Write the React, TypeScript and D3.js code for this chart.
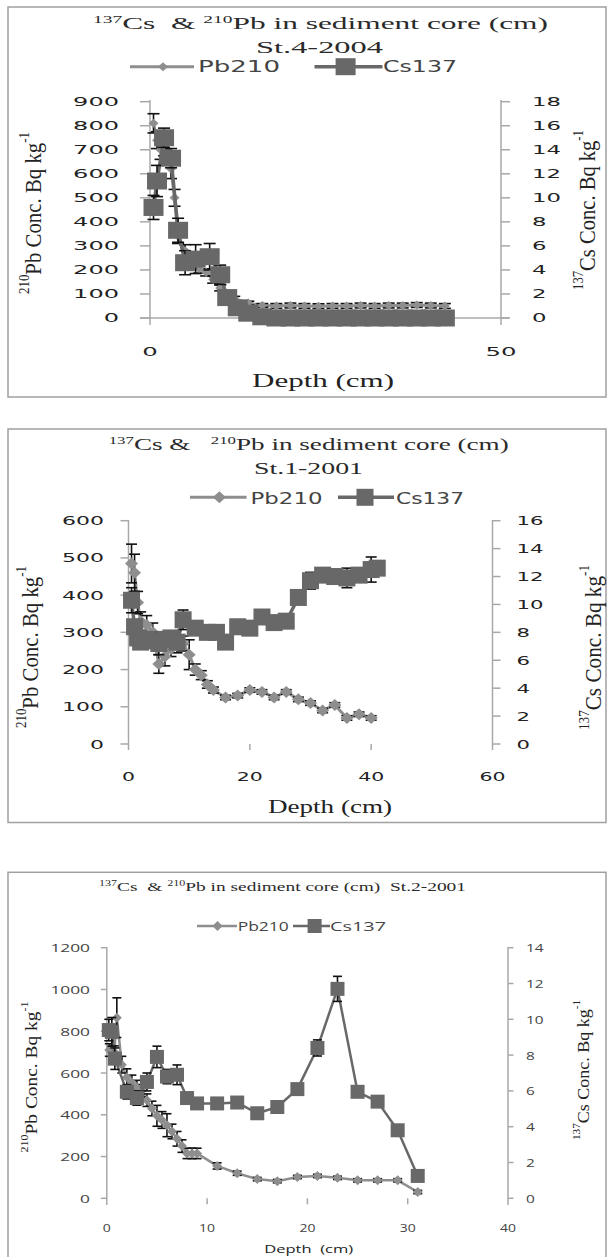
import React from 'react';
import * as d3 from 'd3';

// ---------- Panel 1 : St.4-2004 ----------
const p1PbDepth = [0.5, 1, 1.5, 2, 3, 3.5, 4, 5, 6, 7, 8, 9, 10, 11, 12, 14, 16, 18, 20, 22, 24, 26, 28, 30, 32, 34, 36, 38, 40, 42];
const p1PbValue = [810, 740, 700, 720, 620, 500, 340, 280, 230, 205, 190, 160, 125, 100, 80, 62, 52, 50, 52, 50, 49, 50, 50, 52, 50, 52, 52, 54, 52, 50];
const p1PbError = [40, 35, 40, 45, 40, 35, 30, 25, 20, 18, 15, 15, 12, 10, 10, 8, 8, 10, 10, 10, 10, 10, 10, 10, 10, 10, 10, 10, 10, 10];
const p1CsDepth = [0.5, 1, 2, 3, 4, 5, 6.5, 8.5, 10, 11, 12.5, 14, 16, 18, 20, 22, 24, 26, 28, 30, 32, 34, 36, 38, 40, 42];
const p1CsValue = [9.2, 11.4, 15.0, 13.3, 7.3, 4.6, 4.9, 5.1, 3.6, 1.7, 0.85, 0.4, 0.1, 0, 0, 0, 0, 0, 0, 0, 0, 0, 0, 0, 0, 0];
const p1CsError = [1.0, 1.3, 0.8, 0.8, 1.0, 1.0, 1.2, 1.1, 0.8, 0.5, 0.3, 0.2, 0.1, 0.05, 0.05, 0.05, 0.05, 0.05, 0.05, 0.05, 0.05, 0.05, 0.05, 0.05, 0.05, 0.05];
const p1LeftTicks = [0, 100, 200, 300, 400, 500, 600, 700, 800, 900];
const p1RightTicks = [0, 2, 4, 6, 8, 10, 12, 14, 16, 18];
const p1DepthTicks = [0, 50];

// ---------- Panel 2 : St.1-2001 ----------
const p2PbDepth = [0.5, 1, 1.5, 2, 3, 4, 5, 6, 7, 8, 9, 10, 11, 12, 13, 14, 16, 18, 20, 22, 24, 26, 28, 30, 32, 34, 36, 38, 40];
const p2PbValue = [485, 460, 380, 330, 320, 300, 215, 235, 255, 265, 270, 240, 200, 185, 160, 145, 125, 130, 145, 140, 125, 140, 120, 110, 90, 105, 70, 80, 70];
const p2PbError = [52, 50, 30, 25, 25, 25, 25, 25, 20, 20, 20, 40, 15, 12, 10, 8, 6, 6, 6, 6, 6, 6, 6, 6, 6, 6, 6, 6, 6];
const p2CsDepth = [0.5, 1, 1.5, 2, 3, 4, 5, 6, 7, 8, 9, 11, 13, 14.5, 16, 18, 20, 22, 24, 26, 28, 30, 32, 34, 36, 38, 40, 41];
const p2CsValue = [10.3, 8.4, 7.6, 7.3, 7.5, 7.4, 7.2, 7.5, 7.6, 7.3, 8.9, 8.3, 8.0, 8.0, 7.3, 8.4, 8.3, 9.1, 8.7, 8.8, 10.5, 11.7, 12.1, 12.0, 11.9, 12.1, 12.5, 12.6];
const p2CsError = [0.9, 0.5, 0.5, 0.4, 0.4, 0.5, 0.8, 0.4, 0.4, 0.4, 0.7, 0.3, 0.2, 0.2, 0.2, 0.2, 0.2, 0.3, 0.3, 0.3, 0.3, 0.6, 0.5, 0.4, 0.7, 0.5, 0.9, 0.5];
const p2LeftTicks = [0, 100, 200, 300, 400, 500, 600];
const p2RightTicks = [0, 2, 4, 6, 8, 10, 12, 14, 16];
const p2DepthTicks = [0, 20, 40, 60];

// ---------- Panel 3 : St.2-2001 ----------
const p3PbDepth = [0.25, 0.75, 1, 1.5, 2, 2.5, 3, 3.5, 4, 4.5, 5, 5.5, 6, 6.5, 7, 7.5, 8, 8.5, 9, 11, 13, 15, 17, 19, 21, 23, 25, 27, 29, 31];
const p3PbValue = [710, 700, 865, 640, 580, 555, 530, 515, 470, 430, 395, 375, 350, 320, 285, 250, 215, 215, 215, 155, 120, 92, 82, 102, 107, 98, 86, 86, 86, 30];
const p3PbError = [30, 30, 95, 40, 40, 35, 35, 30, 30, 35, 50, 40, 55, 35, 35, 30, 25, 25, 25, 15, 10, 8, 8, 8, 8, 8, 8, 8, 8, 8];
const p3CsDepth = [0.2, 0.5, 0.8, 2, 3, 4, 5, 6, 7, 8, 9, 11, 13, 15, 17, 19, 21, 23, 25, 27, 29, 31];
const p3CsValue = [9.4, 9.3, 7.8, 5.95, 5.6, 6.5, 7.9, 6.8, 6.9, 5.6, 5.3, 5.3, 5.35, 4.75, 5.1, 6.1, 8.4, 11.7, 5.95, 5.4, 3.8, 1.25];
const p3CsError = [0.6, 0.8, 0.6, 0.4, 0.4, 0.5, 0.6, 0.4, 0.55, 0.2, 0.2, 0.1, 0.1, 0.1, 0.1, 0.25, 0.45, 0.7, 0.2, 0.1, 0.1, 0.1];
const p3LeftTicks = [0, 200, 400, 600, 800, 1000, 1200];
const p3RightTicks = [0, 2, 4, 6, 8, 10, 12, 14];
const p3DepthTicks = [0, 10, 20, 30, 40];

const seriesNames = ['Pb210', 'Cs137'];

const PB_COLOR = '#8e8e8e';
const CS_COLOR = '#686868';
const SERIF = '"Liberation Serif", "DejaVu Serif", serif';
const SANS = '"DejaVu Sans", Verdana, sans-serif';
const SANS3 = '"Open Sans", "Liberation Sans", sans-serif';

type Part = [string, boolean];

function renderParts(list: Part[], size: number) {
  let raised = false;
  return list.map(([s, sup], i) => {
    let dy = 0;
    if (sup && !raised) { dy = -size * 0.38; raised = true; }
    else if (!sup && raised) { dy = size * 0.38; raised = false; }
    return (
      <tspan key={i} fontSize={sup ? size * 0.62 : size} dy={dy}>{s}</tspan>
    );
  });
}

function SText(props: any) {
  const { x, y, w, anchor = 'start', size, family, fill = '#222', baseline = 'auto', weight = 'normal', children } = props;
  const sx = anchor === 'end' ? x - w : anchor === 'middle' ? x - w / 2 : x;
  return (
    <text x={sx} y={y} textLength={w} lengthAdjust="spacingAndGlyphs" fontSize={size}
      fontFamily={family} fill={fill} fontWeight={weight} dominantBaseline={baseline}
      style={{ whiteSpace: 'pre' }}>
      {children}
    </text>
  );
}

function RText(props: any) {
  const { cx, cy, len, size, sx, family, fill = '#222', children } = props;
  return (
    <g transform={`translate(${cx},${cy}) scale(${sx},1) rotate(-90)`}>
      <text x={-len / 2} y={0} textLength={len} lengthAdjust="spacingAndGlyphs" fontSize={size}
        fontFamily={family} fill={fill} dominantBaseline="central" style={{ whiteSpace: 'pre' }}>
        {children}
      </text>
    </g>
  );
}

function diamond(x: number, y: number, w: number, h: number) {
  return `M${x},${y - h / 2}L${x + w / 2},${y}L${x},${y + h / 2}L${x - w / 2},${y}Z`;
}

function Panel({ cfg }: { cfg: any }) {
  const x = d3.scaleLinear().domain(cfg.xDomain).range([cfg.plot.x0, cfg.plot.x1]);
  const yL = d3.scaleLinear().domain([0, cfg.leftTicks[cfg.leftTicks.length - 1]]).range([cfg.plot.yBot, cfg.plot.yTop]);
  const yR = d3.scaleLinear().domain([0, cfg.rightTicks[cfg.rightTicks.length - 1]]).range([cfg.plot.yBot, cfg.plot.yTop]);

  const pbPts = cfg.pbDepth.map((d: number, i: number) => [d, cfg.pbValue[i], cfg.pbError[i]]);
  const csPts = cfg.csDepth.map((d: number, i: number) => [d, cfg.csValue[i], cfg.csError[i]]);

  const pbLine = d3.line<any>().x(p => x(p[0])).y(p => yL(p[1]));
  const csLine = d3.line<any>().x(p => x(p[0])).y(p => yR(p[1]));

  const m = cfg.marker;
  const lg = cfg.legend;
  const capW = cfg.capW;

  const errBars = (pts: any[], ys: any, key: string) =>
    pts.map((p, i) => {
      const cx = x(p[0]);
      const y1 = ys(p[1] - p[2]);
      const y2 = ys(p[1] + p[2]);
      return (
        <g key={key + i} stroke="#111" strokeWidth={1.6}>
          <line x1={cx} x2={cx} y1={y1} y2={y2} />
          <line x1={cx - capW / 2} x2={cx + capW / 2} y1={y1} y2={y1} />
          <line x1={cx - capW / 2} x2={cx + capW / 2} y1={y2} y2={y2} />
        </g>
      );
    });

  const lab = cfg.labels;

  return (
    <g>
      <rect x={cfg.box.x} y={cfg.box.y} width={cfg.box.w} height={cfg.box.h} fill="#fff" stroke="#a0a0a0" strokeWidth={1.5} />

      {cfg.titles.map((t: any, i: number) => (
        <SText key={'t' + i} x={t.cx} y={t.y} w={t.w} anchor="middle" size={t.size} family={SERIF} fill="#2a2a2a">
          {renderParts(t.parts, t.size)}
        </SText>
      ))}

      {/* legend */}
      <g>
        <line x1={lg.pb.x0} x2={lg.pb.x1} y1={lg.y} y2={lg.y} stroke={PB_COLOR} strokeWidth={cfg.stroke.pb} />
        <path d={diamond(lg.pb.mx, lg.y, m.dW, m.dH)} fill={PB_COLOR} />
        <SText x={lg.pb.tx} y={lg.ty} w={lg.pb.tw} size={lg.size} family={lg.family} fill="#444">{seriesNames[0]}</SText>
        <line x1={lg.cs.x0} x2={lg.cs.x1} y1={lg.y} y2={lg.y} stroke={CS_COLOR} strokeWidth={cfg.stroke.cs} />
        <rect x={lg.cs.mx - m.sW / 2} y={lg.y - m.sH / 2} width={m.sW} height={m.sH} fill={CS_COLOR} />
        <SText x={lg.cs.tx} y={lg.ty} w={lg.cs.tw} size={lg.size} family={lg.family} fill="#444">{seriesNames[1]}</SText>
      </g>

      {/* axes */}
      <g stroke="#a8a8a8" strokeWidth={1.5}>
        <line x1={cfg.plot.x0} x2={cfg.plot.x0} y1={cfg.axisExt.top} y2={cfg.axisExt.bottom} />
        <line x1={cfg.plot.x1} x2={cfg.plot.x1} y1={cfg.axisExt.top} y2={cfg.axisExt.bottom} />
        {cfg.xAxisLine && (
          <line x1={cfg.xAxisLine.x0} x2={cfg.xAxisLine.x1} y1={cfg.plot.yBot} y2={cfg.plot.yBot} />
        )}
        {cfg.leftTicks.map((t: number) => (
          <line key={'lt' + t} x1={cfg.plot.x0 - cfg.tickLen.left} x2={cfg.plot.x0} y1={yL(t)} y2={yL(t)} />
        ))}
        {cfg.rightTicks.map((t: number) => (
          <line key={'rt' + t} x1={cfg.plot.x1} x2={cfg.plot.x1 + cfg.tickLen.right} y1={yR(t)} y2={yR(t)} />
        ))}
        {cfg.xTickMarks && cfg.depthTicks.slice(1, -1).map((t: number) => (
          <line key={'xt' + t} x1={x(t)} x2={x(t)} y1={cfg.plot.yBot} y2={cfg.plot.yBot + cfg.tickLen.bottom} />
        ))}
      </g>

      {/* tick labels */}
      {cfg.leftTicks.map((t: number) => (
        <SText key={'ll' + t} x={lab.leftEnd} y={yL(t)} w={String(t).length * lab.leftChar} anchor="end"
          size={lab.size} family={lab.family} fill={lab.fill} baseline="central">{String(t)}</SText>
      ))}
      {cfg.rightTicks.map((t: number) => (
        <SText key={'rl' + t} x={lab.rightStart} y={yR(t)} w={String(t).length * lab.rightChar}
          size={lab.size} family={lab.family} fill={lab.fill} baseline="central">{String(t)}</SText>
      ))}
      {cfg.depthTicks.map((t: number) => (
        <SText key={'xl' + t} x={x(t)} y={lab.xY} w={String(t).length * lab.xChar} anchor="middle"
          size={lab.size} family={lab.family} fill={lab.fill} baseline="central">{String(t)}</SText>
      ))}

      {/* axis titles */}
      <SText x={cfg.depthTitle.cx} y={cfg.depthTitle.y} w={cfg.depthTitle.w} anchor="middle"
        size={cfg.depthTitle.size} family={cfg.depthTitle.family} fill="#222">{cfg.depthTitle.text}</SText>
      <RText cx={cfg.leftTitle.cx} cy={cfg.leftTitle.cy} len={cfg.leftTitle.len} size={cfg.leftTitle.size}
        sx={cfg.leftTitle.sx} family={SERIF}>
        {renderParts([['210', true], ['Pb Conc. Bq kg', false], ['-1', true]], cfg.leftTitle.size)}
      </RText>
      <RText cx={cfg.rightTitle.cx} cy={cfg.rightTitle.cy} len={cfg.rightTitle.len} size={cfg.rightTitle.size}
        sx={cfg.rightTitle.sx} family={SERIF}>
        {renderParts([['137', true], ['Cs Conc. Bq kg', false], ['-1', true]], cfg.rightTitle.size)}
      </RText>

      {/* series: Pb210 */}
      <path d={pbLine(pbPts) || ''} fill="none" stroke={PB_COLOR} strokeWidth={cfg.stroke.pb} strokeLinejoin="round" />
      {errBars(pbPts, yL, 'pe')}
      {pbPts.map((p: any, i: number) => (
        <path key={'pm' + i} d={diamond(x(p[0]), yL(p[1]), m.dW, m.dH)} fill={PB_COLOR} />
      ))}

      {/* series: Cs137 */}
      <path d={csLine(csPts) || ''} fill="none" stroke={CS_COLOR} strokeWidth={cfg.stroke.cs} strokeLinejoin="round" />
      {errBars(csPts, yR, 'ce')}
      {csPts.map((p: any, i: number) => (
        <rect key={'cm' + i} x={x(p[0]) - m.sW / 2} y={yR(p[1]) - m.sH / 2} width={m.sW} height={m.sH} fill={CS_COLOR} />
      ))}
    </g>
  );
}

const panel1 = {
  pbDepth: p1PbDepth, pbValue: p1PbValue, pbError: p1PbError,
  csDepth: p1CsDepth, csValue: p1CsValue, csError: p1CsError,
  leftTicks: p1LeftTicks, rightTicks: p1RightTicks, depthTicks: p1DepthTicks,
  xDomain: [0, 50],
  box: { x: 8, y: 7, w: 598, h: 390 },
  plot: { x0: 150, x1: 501, yTop: 101.7, yBot: 318 },
  axisExt: { top: 100, bottom: 325 },
  xAxisLine: { x0: 140, x1: 509 },
  xTickMarks: false,
  tickLen: { left: 10, right: 9, bottom: 6 },
  labels: { leftEnd: 119, leftChar: 15.3, rightStart: 532, rightChar: 14.5, xY: 351.7, xChar: 15.5, size: 12, family: SANS, fill: '#222' },
  titles: [
    { parts: [['137', true], ['Cs  & ', false], ['210', true], ['Pb in sediment core (cm)', false]], cx: 320.5, y: 29.3, w: 455, size: 17 },
    { parts: [['St.4-2004', false]], cx: 319.5, y: 53.3, w: 127, size: 17 },
  ],
  legend: { y: 66.7, ty: 71.5, size: 15, family: SANS, pb: { x0: 130, x1: 194, mx: 163, tx: 198, tw: 82 }, cs: { x0: 314.5, x1: 382.5, mx: 345.6, tx: 383, tw: 74 } },
  depthTitle: { text: 'Depth (cm)', cx: 323, y: 386.7, w: 142, size: 18, family: SERIF },
  leftTitle: { cx: 33, cy: 213, len: 162, size: 16, sx: 1.5 },
  rightTitle: { cx: 587, cy: 210, len: 160, size: 16, sx: 1.5 },
  marker: { dW: 10, dH: 9, sW: 20, sH: 17 },
  stroke: { pb: 3, cs: 3.5 },
  capW: 12,
};

const panel2 = {
  pbDepth: p2PbDepth, pbValue: p2PbValue, pbError: p2PbError,
  csDepth: p2CsDepth, csValue: p2CsValue, csError: p2CsError,
  leftTicks: p2LeftTicks, rightTicks: p2RightTicks, depthTicks: p2DepthTicks,
  xDomain: [0, 60],
  box: { x: 8, y: 429, w: 598, h: 393.5 },
  plot: { x0: 128.5, x1: 492.5, yTop: 520.7, yBot: 744 },
  axisExt: { top: 520, bottom: 750 },
  xAxisLine: null,
  xTickMarks: true,
  tickLen: { left: 8, right: 8, bottom: 6 },
  labels: { leftEnd: 104, leftChar: 14, rightStart: 516.5, rightChar: 13.5, xY: 776.7, xChar: 13, size: 13, family: SANS, fill: '#222' },
  titles: [
    { parts: [['137', true], ['Cs &   ', false], ['210', true], ['Pb in sediment core (cm)', false]], cx: 308.7, y: 450, w: 400, size: 16 },
    { parts: [['St.1-2001', false]], cx: 308.5, y: 474, w: 109, size: 16 },
  ],
  legend: { y: 497.3, ty: 503.5, size: 15, family: SANS, pb: { x0: 190, x1: 246.6, mx: 219.4, tx: 250.5, tw: 72 }, cs: { x0: 338, x1: 394, mx: 365, tx: 396, tw: 68 } },
  depthTitle: { text: 'Depth (cm)', cx: 330, y: 813, w: 124, size: 18, family: SERIF },
  leftTitle: { cx: 30, cy: 647, len: 162, size: 16, sx: 1.45 },
  rightTitle: { cx: 593, cy: 647.5, len: 165, size: 16, sx: 1.45 },
  marker: { dW: 13, dH: 12, sW: 17, sH: 17 },
  stroke: { pb: 3, cs: 3.5 },
  capW: 11,
};

const panel3 = {
  pbDepth: p3PbDepth, pbValue: p3PbValue, pbError: p3PbError,
  csDepth: p3CsDepth, csValue: p3CsValue, csError: p3CsError,
  leftTicks: p3LeftTicks, rightTicks: p3RightTicks, depthTicks: p3DepthTicks,
  xDomain: [0, 40],
  box: { x: 8, y: 872.3, w: 598, h: 392 },
  plot: { x0: 106.8, x1: 508, yTop: 947.7, yBot: 1198.3 },
  axisExt: { top: 947, bottom: 1205 },
  xAxisLine: null,
  xTickMarks: true,
  tickLen: { left: 6, right: 5.5, bottom: 6 },
  labels: { leftEnd: 90, leftChar: 9.9, rightStart: 526, rightChar: 8.8, xY: 1227.3, xChar: 8, size: 11, family: SANS3, fill: '#444' },
  titles: [
    { parts: [['137', true], ['Cs  & ', false], ['210', true], ['Pb in sediment core (cm)  St.2-2001', false]], cx: 282.5, y: 891, w: 367, size: 12.5 },
  ],
  legend: { y: 926, ty: 930.5, size: 13, family: SANS3, pb: { x0: 197, x1: 237, mx: 217.5, tx: 237.7, tw: 51 }, cs: { x0: 293, x1: 330, mx: 314.6, tx: 330, tw: 56 } },
  depthTitle: { text: 'Depth  (cm)', cx: 308.7, y: 1252.5, w: 89, size: 11.5, family: SANS3 },
  leftTitle: { cx: 30, cy: 1077, len: 151, size: 14, sx: 1.2 },
  rightTitle: { cx: 582, cy: 1070, len: 140, size: 14, sx: 1.2 },
  marker: { dW: 10, dH: 10, sW: 14, sH: 14 },
  stroke: { pb: 2.5, cs: 2.5 },
  capW: 9,
};

export default function App() {
  return (
    <svg width={609} height={1257} viewBox="0 0 609 1257"
      style={{ position: 'absolute', left: 0, top: 0, background: '#fff' }}>
      <rect x={0} y={0} width={609} height={1257} fill="#fff" />
      <Panel cfg={panel1} />
      <Panel cfg={panel2} />
      <Panel cfg={panel3} />
    </svg>
  );
}
